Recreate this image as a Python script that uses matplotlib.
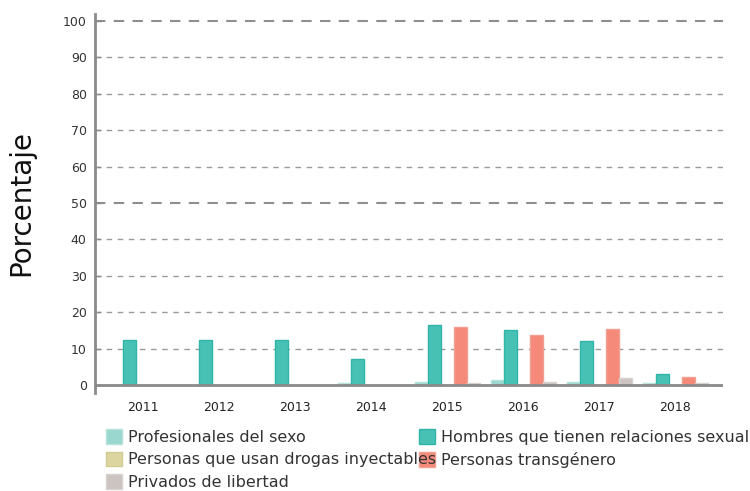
import numpy as np
import matplotlib.pyplot as plt
from matplotlib.patches import Patch

years = ['2011', '2012', '2013', '2014', '2015', '2016', '2017', '2018']
series = [
    'Profesionales del sexo',
    'Hombres que tienen relaciones sexual',
    'Personas que usan drogas inyectables',
    'Personas transgénero',
    'Privados de libertad',
]
profesionales = [0, 0, 0, 0.5, 0.9, 1.3, 0.9, 0.6]
hsh = [12.4, 12.4, 12.4, 7.1, 16.4, 15.1, 12.2, 3.0]
drogas = [0, 0, 0, 0, 0, 0, 0, 0]
transgenero = [0, 0, 0, 0, 16.0, 13.8, 15.5, 2.3]
privados = [0, 0, 0, 0, 0.5, 0.9, 2.0, 0.5]
values = [profesionales, hsh, drogas, transgenero, privados]

colors = ['#9ad8cf', '#48c1b5', '#dcd59f', '#f5897a', '#cbc4c0']
edges = ['#b5e3dc', '#2fb4a6', '#d2cb90', '#f3a092', '#d8d2ce']

fig = plt.figure(figsize=(7.5, 4.91), dpi=100)
ax = fig.add_axes([95 / 750, 1 - 393 / 491, 628 / 750, 379 / 491])

x = np.arange(len(years))
w = 0.171
for i, (vals, c, ec) in enumerate(zip(values, colors, edges)):
    ax.bar(x + (i - 2) * w, vals, width=w, color=c, edgecolor=ec, linewidth=1, zorder=3)

ax.set_xlim(-0.63, len(years) - 1 + 0.63)
ax.set_ylim(-2.2, 101.9)
ax.set_yticks(range(0, 101, 10))
ax.set_xticks(x)
ax.set_xticklabels(years)

# grid: thin short dashes, heavier at 50 and 100
for v in range(10, 100, 10):
    if v == 50:
        continue
    ax.axhline(v, color='#9a9a9a', lw=1, ls=(0, (4, 4)), zorder=1)
for v in (50, 100):
    ax.axhline(v, color='#8e8e8e', lw=1.5, ls=(0, (5, 4)), zorder=1)
ax.axhline(0, color='#8a8a8a', lw=2, zorder=4)

for s in ['top', 'right', 'bottom']:
    ax.spines[s].set_visible(False)
ax.spines['left'].set_color('#8a8a8a')
ax.spines['left'].set_linewidth(2)
ax.tick_params(axis='y', direction='in', length=4, width=1, color='#8a8a8a',
               labelsize=9, labelcolor='#333333', pad=6)
ax.tick_params(axis='x', length=0, labelsize=9, labelcolor='#222222', pad=5.5)
ax.set_ylabel('Porcentaje', fontsize=20, color='#111111', labelpad=20)

handles = [Patch(facecolor=c, edgecolor=ec) for c, ec in zip(colors, edges)]
leg_kw = dict(frameon=False, fontsize=11.5, handlelength=1.0, handleheight=1.05,
              handletextpad=0.4, labelspacing=0.42, borderpad=0, borderaxespad=0,
              loc='upper left', labelcolor='#333333')
leg1 = fig.legend([handles[0], handles[2], handles[4]], [series[0], series[2], series[4]],
                  bbox_to_anchor=(106 / 750, 1 - 429 / 491), **leg_kw)
leg2 = fig.legend([handles[1], handles[3]], [series[1], series[3]],
                  bbox_to_anchor=(419 / 750, 1 - 429 / 491), **leg_kw)
# first column's text is drawn over the second column's swatches
leg2.set_zorder(5)
leg1.set_zorder(6)

fig.savefig('out.png', dpi=100)
